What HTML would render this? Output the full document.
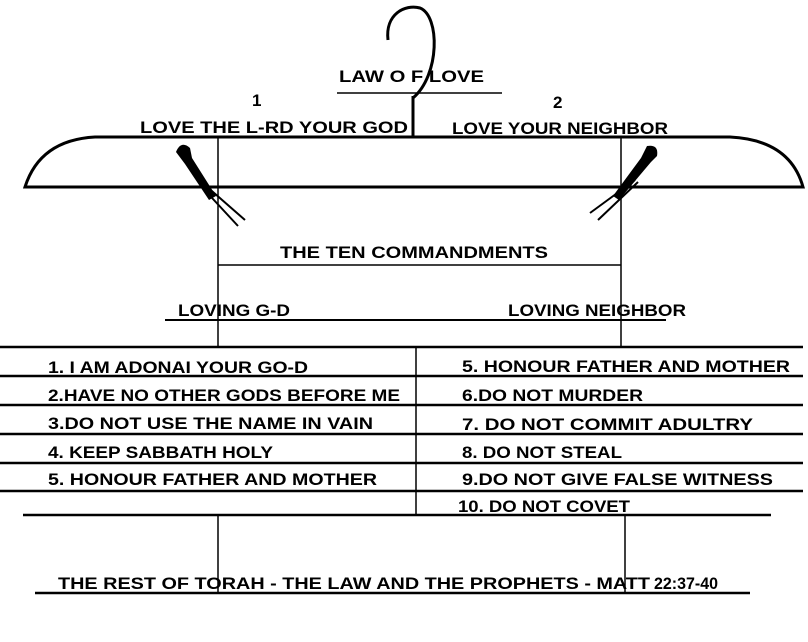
<!DOCTYPE html>
<html><head><meta charset="utf-8"><style>
body{margin:0;background:#fff}
svg text{font-family:"Liberation Sans",sans-serif;font-size:17px;fill:#000;font-weight:bold}
</style></head><body>
<svg width="808" height="637" viewBox="0 0 808 637" xmlns="http://www.w3.org/2000/svg">
<g fill="none" stroke="#000">
<path d="M388,40 C385,14 405,4 420,8 C440,16 440,75 413,98" stroke-width="3"/>
<line x1="413" y1="96" x2="413" y2="137" stroke-width="3"/>
<line x1="337" y1="93" x2="502" y2="93" stroke-width="1.5"/>
<path d="M25,187 Q40,140 95,137 L730,137 Q790,140 803,187 Z" stroke-width="3"/>
<line x1="218" y1="137" x2="218" y2="347" stroke-width="1.5"/>
<line x1="621" y1="137" x2="621" y2="347" stroke-width="1.5"/>
<line x1="218" y1="265" x2="621" y2="265" stroke-width="1.5"/>
<line x1="165" y1="320" x2="666" y2="320" stroke-width="2"/>
<g stroke-width="2.5">
<line x1="0" y1="347" x2="803" y2="347"/>
<line x1="0" y1="376" x2="803" y2="376"/>
<line x1="0" y1="405" x2="803" y2="405"/>
<line x1="0" y1="434" x2="803" y2="434"/>
<line x1="0" y1="463" x2="803" y2="463"/>
<line x1="0" y1="491" x2="803" y2="491"/>
<line x1="23" y1="515" x2="771" y2="515"/>
<line x1="35" y1="593" x2="750" y2="593"/>
</g>
<line x1="416" y1="347" x2="416" y2="515" stroke-width="1.5"/>
<line x1="218" y1="515" x2="218" y2="593" stroke-width="1.5"/>
<line x1="625" y1="515" x2="625" y2="593" stroke-width="1.5"/>
<g stroke-width="2">
<line x1="205" y1="185" x2="245" y2="220"/><line x1="200" y1="185" x2="238" y2="226"/>
<line x1="635" y1="180" x2="590" y2="213"/><line x1="638" y1="182" x2="598" y2="220"/>
</g>
</g>
<g fill="#000">
<path d="M176,152 q5,-12 14,-4 l2,10 l24,38 l-7,4 l-24,-36 z"/>
<path d="M647,146 q12,-2 10,10 l-6,6 l-32,38 l-6,-4 l28,-38 z"/>
</g>
<text x="339" y="82" textLength="145" lengthAdjust="spacingAndGlyphs">LAW O  F LOVE</text>
<text x="252" y="106" font-size="12" font-weight="normal">1</text>
<text x="553" y="108" font-size="12" font-weight="normal">2</text>
<text x="140" y="133" textLength="268" lengthAdjust="spacingAndGlyphs">LOVE THE L-RD YOUR GOD</text>
<text x="452" y="134" textLength="216" lengthAdjust="spacingAndGlyphs">LOVE YOUR NEIGHBOR</text>
<text x="280" y="258" textLength="268" lengthAdjust="spacingAndGlyphs">THE TEN COMMANDMENTS</text>
<text x="178" y="316" textLength="112" lengthAdjust="spacingAndGlyphs">LOVING G-D</text>
<text x="508" y="316" textLength="178" lengthAdjust="spacingAndGlyphs">LOVING NEIGHBOR</text>
<g font-size="16">
<text x="48" y="373" textLength="260" lengthAdjust="spacingAndGlyphs">1. I AM ADONAI YOUR GO-D</text>
<text x="48" y="401" textLength="352" lengthAdjust="spacingAndGlyphs">2.HAVE NO OTHER GODS BEFORE ME</text>
<text x="48" y="429" textLength="325" lengthAdjust="spacingAndGlyphs">3.DO NOT USE THE NAME IN VAIN</text>
<text x="48" y="458" textLength="225" lengthAdjust="spacingAndGlyphs">4. KEEP SABBATH  HOLY</text>
<text x="48" y="485" textLength="329" lengthAdjust="spacingAndGlyphs">5. HONOUR FATHER AND MOTHER</text>
<text x="462" y="372" textLength="328" lengthAdjust="spacingAndGlyphs">5. HONOUR FATHER AND MOTHER</text>
<text x="462" y="401" textLength="181" lengthAdjust="spacingAndGlyphs">6.DO NOT MURDER</text>
<text x="462" y="430" textLength="291" lengthAdjust="spacingAndGlyphs">7. DO NOT  COMMIT ADULTRY</text>
<text x="462" y="458" textLength="160" lengthAdjust="spacingAndGlyphs">8. DO NOT STEAL</text>
<text x="462" y="485" textLength="311" lengthAdjust="spacingAndGlyphs">9.DO NOT GIVE  FALSE WITNESS</text>
<text x="458" y="512" textLength="172" lengthAdjust="spacingAndGlyphs">10. DO NOT COVET</text>
<text x="58" y="589" textLength="592" lengthAdjust="spacingAndGlyphs">THE REST OF TORAH - THE LAW AND THE PROPHETS - MATT</text>
<text x="654" y="589" font-size="12" textLength="64" lengthAdjust="spacingAndGlyphs">22:37-40</text>
</g>
</svg>
</body></html>
